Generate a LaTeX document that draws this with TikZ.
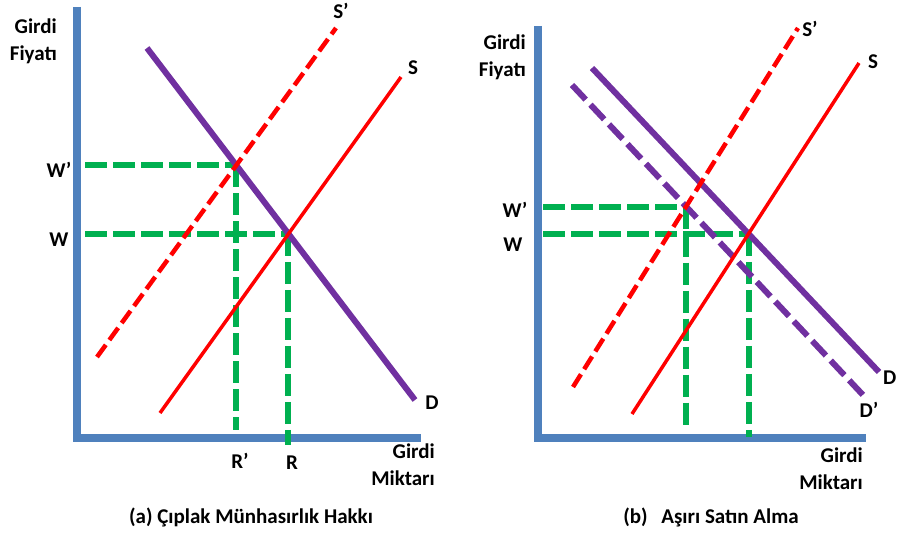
\documentclass[tikz,border=0pt]{standalone}
\usepackage{fontspec}
\setmainfont{Carlito}
\usetikzlibrary{intersections}

\definecolor{axisblue}{HTML}{4F81BD}
\definecolor{dempurple}{HTML}{7030A0}
\definecolor{supred}{HTML}{FF0000}
\definecolor{guidegreen}{HTML}{00B050}

\tikzset{
  axisline/.style={axisblue, line width=8.5pt, line join=miter},
  demand/.style={dempurple, line width=6pt},
  demanddash/.style={demand, dash pattern=on 20pt off 7pt},
  supply/.style={supred, line width=3.5pt},
  supplydash/.style={supred, line width=4.5pt, dash pattern=on 15pt off 6pt},
  guide/.style={guidegreen, line width=6pt, dash pattern=on 22pt off 6pt},
  lbl/.style={font=\bfseries\fontsize{21}{27}\selectfont, inner sep=0pt},
}

\begin{document}
\begin{tikzpicture}[x=1pt, y=-1pt]
\useasboundingbox (0,0) rectangle (897,535);

% ================= (a) =================
% Axes
\coordinate (a-top) at (77,7);
\coordinate (a-org) at (77,438);
\coordinate (a-end) at (421,438);
\draw[axisline] (a-top) -- (a-org) -- (a-end);
\node[lbl, align=right, anchor=east] (a-ylab) at (57,41) {Girdi\\Fiyatı};
\node[lbl, align=right, anchor=east] (a-xlab) at (435,465) {Girdi\\Miktarı};

% Curves (paths only here, drawn after the guides)
\coordinate (a-D1) at (147,48);  \coordinate (a-D2) at (415,400);
\coordinate (a-S1) at (160,413); \coordinate (a-S2) at (401,77);
\coordinate (a-Sp1) at (97,357); \coordinate (a-Sp2) at (336,28);
\path[name path=aD] (a-D1) -- (a-D2);
\path[name path=aS] (a-S1) -- (a-S2);
\path[name path=aSp] (a-Sp1) -- (a-Sp2);
\path[name intersections={of=aD and aSp, by=a-Wp}];
\path[name intersections={of=aD and aS, by=a-W}];

% Guides to the axes
\coordinate (a-gx) at (85,0);
\coordinate (a-Rpend) at (0,430);
\coordinate (a-Rend) at (0,445);
\draw[guide] (a-gx |- a-Wp) -- (a-Wp);
\draw[guide] (a-Wp) -- (a-Wp |- a-Rpend);
\draw[guide] (a-gx |- a-W) -- (a-W);
\draw[guide] (a-W) -- (a-W |- a-Rend);

\draw[demand] (a-D1) -- (a-D2);
\draw[supplydash] (a-Sp1) -- (a-Sp2);
\draw[supply] (a-S1) -- (a-S2);

% Labels
\node[lbl] (a-Dlab) at (432,403) {D};
\node[lbl] (a-Slab) at (413,68) {S};
\node[lbl] (a-Splab) at (341,11) {S’};
\node[lbl] (a-Wplab) at (59,170) {W’};
\node[lbl] (a-Wlab) at (59,240) {W};
\node[lbl] (a-Rplab) at (240,461) {R’};
\node[lbl] (a-Rlab) at (292,463) {R};
\node[lbl] (a-cap) at (251,517) {(a) Çıplak Münhasırlık Hakkı};

% ================= (b) =================
% Axes
\coordinate (b-top) at (538,26);
\coordinate (b-org) at (538,438);
\coordinate (b-end) at (866,438);
\draw[axisline] (b-top) -- (b-org) -- (b-end);
\node[lbl, align=right, anchor=east] (b-ylab) at (526,57) {Girdi\\Fiyatı};
\node[lbl, align=right, anchor=east] (b-xlab) at (863,469) {Girdi\\Miktarı};

% Curves
\coordinate (b-D1) at (592,68);   \coordinate (b-D2) at (879,372);
\coordinate (b-Dp1) at (572,85);  \coordinate (b-Dp2) at (863,395);
\coordinate (b-S1) at (632,414);  \coordinate (b-S2) at (859,63);
\coordinate (b-Sp1) at (573,387); \coordinate (b-Sp2) at (798,28);
\path[name path=bD] (b-D1) -- (b-D2);
\path[name path=bDp] (b-Dp1) -- (b-Dp2);
\path[name path=bS] (b-S1) -- (b-S2);
\path[name path=bSp] (b-Sp1) -- (b-Sp2);
\path[name intersections={of=bDp and bSp, by=b-Wp}];
\path[name intersections={of=bD and bS, by=b-W}];

% Guides to the axes
\coordinate (b-gx) at (543,0);
\coordinate (b-Rpend) at (0,428);
\coordinate (b-Rend) at (0,437);
\draw[guide] (b-gx |- b-Wp) -- (b-Wp);
\draw[guide] (b-Wp) -- (b-Wp |- b-Rpend);
\draw[guide] (b-gx |- b-W) -- (b-W);
\draw[guide] (b-W) -- (b-W |- b-Rend);

\draw[demand] (b-D1) -- (b-D2);
\draw[demanddash] (b-Dp1) -- (b-Dp2);
\draw[supplydash] (b-Sp1) -- (b-Sp2);
\draw[supply] (b-S1) -- (b-S2);

% Labels
\node[lbl, anchor=west] (b-Dlab) at (883,378) {D};
\node[lbl] (b-Dplab) at (869,410) {D’};
\node[lbl] (b-Slab) at (873,62) {S};
\node[lbl] (b-Splab) at (810,29) {S’};
\node[lbl] (b-Wplab) at (515,210) {W’};
\node[lbl] (b-Wlab) at (513,245) {W};
\node[lbl] (b-cap) at (711,517) {(b)\hspace{9pt} Aşırı Satın Alma};
\end{tikzpicture}
\end{document}
